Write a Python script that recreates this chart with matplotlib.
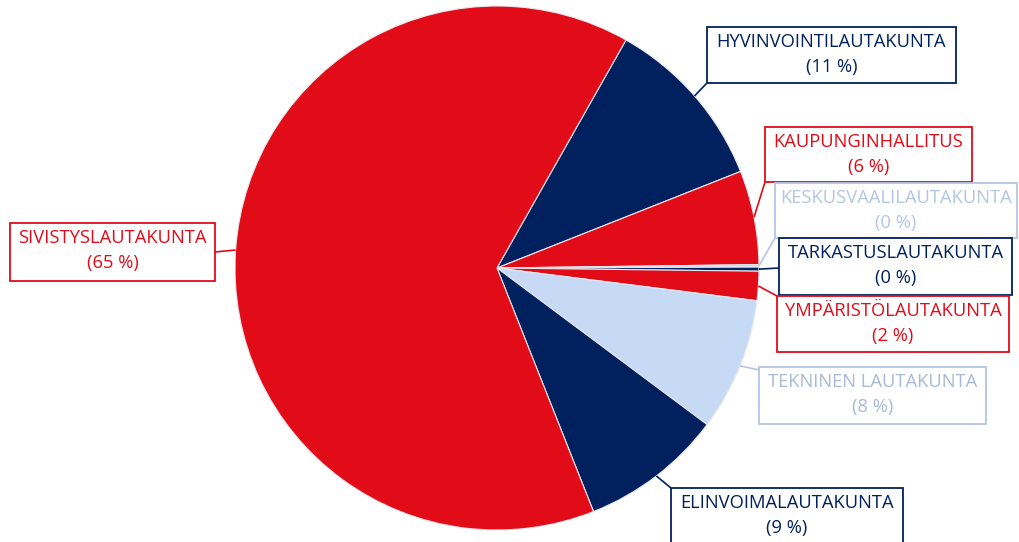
import matplotlib
matplotlib.use("Agg")
import matplotlib.pyplot as plt
from matplotlib.patches import Rectangle
import numpy as np

# ---- data ----
categories = ["HYVINVOINTILAUTAKUNTA", "KAUPUNGINHALLITUS", "KESKUSVAALILAUTAKUNTA",
              "TARKASTUSLAUTAKUNTA", "YMPÄRISTÖLAUTAKUNTA", "TEKNINEN LAUTAKUNTA",
              "ELINVOIMALAUTAKUNTA", "SIVISTYSLAUTAKUNTA"]
values = [10.8, 5.8, 0.15, 0.25, 1.8, 8.2, 8.8, 64.2]
pct_labels = ["11 %", "6 %", "0 %", "0 %", "2 %", "8 %", "9 %", "65 %"]

RED = "#E20C19"
NAVY = "#00215E"
LIGHT = "#C7DAF5"
slice_colors = [NAVY, RED, LIGHT, NAVY, RED, LIGHT, NAVY, RED]
text_colors = [NAVY, RED, "#B4C6E4", NAVY, RED, "#A9B9D6", NAVY, RED]
border_colors = [NAVY, RED, "#B4C6E4", NAVY, RED, "#B4C6E4", NAVY, RED]

# label boxes in pixel coordinates (left, top, right, bottom) - layout only
boxes = [(707, 27, 956, 83), (765, 127, 972, 182), (775, 183, 1017, 238),
         (779, 238, 1012, 295), (777, 296, 1009, 352), (759, 367, 986, 424),
         (671, 488, 903, 560), (10, 223, 215, 281)]
anchors = [(707, 83), (765, 182), (775, 238), (779, 268), (777, 296),
           (759, 370), (671, 488), (215, 252)]

W, H = 1019, 542
fig = plt.figure(figsize=(W / 100, H / 100), dpi=100)
ax = fig.add_axes([0, 0, 1, 1])

cx, cy, R = 497, H - 268, 262
start = 90 - 29.5
wedges, _ = ax.pie(values, colors=slice_colors, startangle=start, counterclock=False,
                   center=(cx, cy), radius=R, frame=True,
                   wedgeprops=dict(edgecolor="#E8E8EE", linewidth=0.8))
ax.set_xlim(0, W)
ax.set_ylim(0, H)
ax.set_aspect("equal")
ax.axis("off")

for i, w in enumerate(wedges):
    mid = np.deg2rad((w.theta1 + w.theta2) / 2)
    ex, ey = cx + R * np.cos(mid), cy + R * np.sin(mid)
    axp, ayp = anchors[i]
    ax.plot([ex, axp], [ey, H - ayp], color=border_colors[i], lw=1.2, zorder=3,
            solid_capstyle="butt")
for i in range(len(categories)):
    l, t, r, b = boxes[i]
    ax.add_patch(Rectangle((l, H - b), r - l, b - t, facecolor="white",
                           edgecolor=border_colors[i], lw=1.3, zorder=4))
    xc = (l + r) / 2
    ax.text(xc, H - (t + 15), categories[i], ha="center", va="center",
            fontsize=13.2, family="Open Sans", color=text_colors[i], zorder=5)
    ax.text(xc, H - (t + 40), "(" + pct_labels[i] + ")", ha="center", va="center",
            fontsize=13.2, family="Open Sans", color=text_colors[i], zorder=5)

fig.savefig("out.png", dpi=100, facecolor="white")
